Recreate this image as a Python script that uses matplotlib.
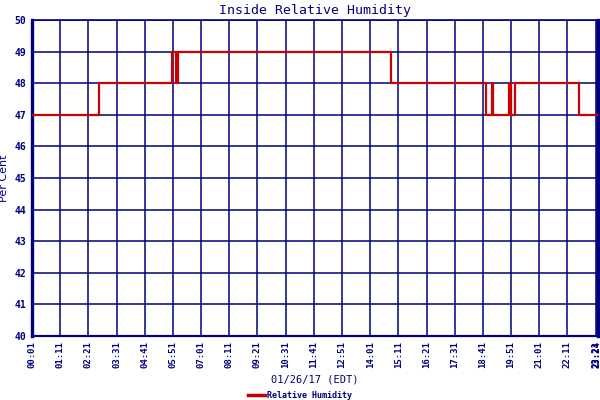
import matplotlib.pyplot as plt
import numpy as np

# change points of the humidity trace: minutes after midnight, per cent
times = [1, 168, 349.5, 358, 364.5, 892.5, 1130, 1142.5, 1145, 1146, 1187, 1189, 1191, 1198.5, 1201, 1360, 1407]
humidity = [47, 48, 49, 48, 49, 48, 47, 48, 48, 47, 48, 48, 47, 47, 48, 47, 47]

tick_minutes = [1 + 70 * k for k in range(21)] + [1404]
tick_labels = ['00:01', '01:11', '02:21', '03:31', '04:41', '05:51', '07:01', '08:11',
               '09:21', '10:31', '11:41', '12:51', '14:01', '15:11', '16:21', '17:31',
               '18:41', '19:51', '21:01', '22:11', '23:21', '23:24']

navy = '#000080'
red = '#cc0000'
mono = 'DejaVu Sans Mono'

fig = plt.figure(figsize=(6, 4), dpi=100)
ax = fig.add_axes([32 / 600, 1 - 336 / 400, 566 / 600, 316 / 400])

ax.plot(times, humidity, drawstyle='steps-post', color=red, lw=1.6, label='Relative Humidity', zorder=3)

ax.set_xlim(1, 1407)
ax.set_ylim(40, 50)
ax.set_xticks(tick_minutes)
ax.set_xticklabels(tick_labels, rotation=90, family=mono, fontsize=6.5, color=navy, fontweight='bold')
ax.set_yticks(range(40, 51))
ax.set_yticklabels([str(v) for v in range(40, 51)], family=mono, fontsize=7, color=navy, fontweight='bold')
ax.tick_params(length=0, pad=4)
ax.grid(True, color=navy, lw=1.1)

for side, w in (('left', 2.4), ('right', 2.4), ('bottom', 1.6), ('top', 1.2)):
	ax.spines[side].set_color(navy)
	ax.spines[side].set_linewidth(w)

ax.set_title('Inside Relative Humidity', family=mono, fontsize=9.5, color=navy, pad=4)
ax.set_ylabel('Per Cent', color=navy, fontsize=8, labelpad=4)
fig.text(0.525, 1 - 380 / 400, '01/26/17 (EDT)', family=mono, fontsize=7.5, color=navy,
         ha='center', va='center')

leg = fig.legend(loc='center', bbox_to_anchor=(0.5, 1 - 395 / 400), frameon=False, borderpad=0,
                 prop={'family': mono, 'size': 6, 'weight': 'bold'}, handlelength=2.0, handletextpad=0.3)
for t in leg.get_texts():
	t.set_color(navy)
for line in leg.get_lines():
	line.set_linewidth(2.5)

fig.savefig('out.png', dpi=100)
